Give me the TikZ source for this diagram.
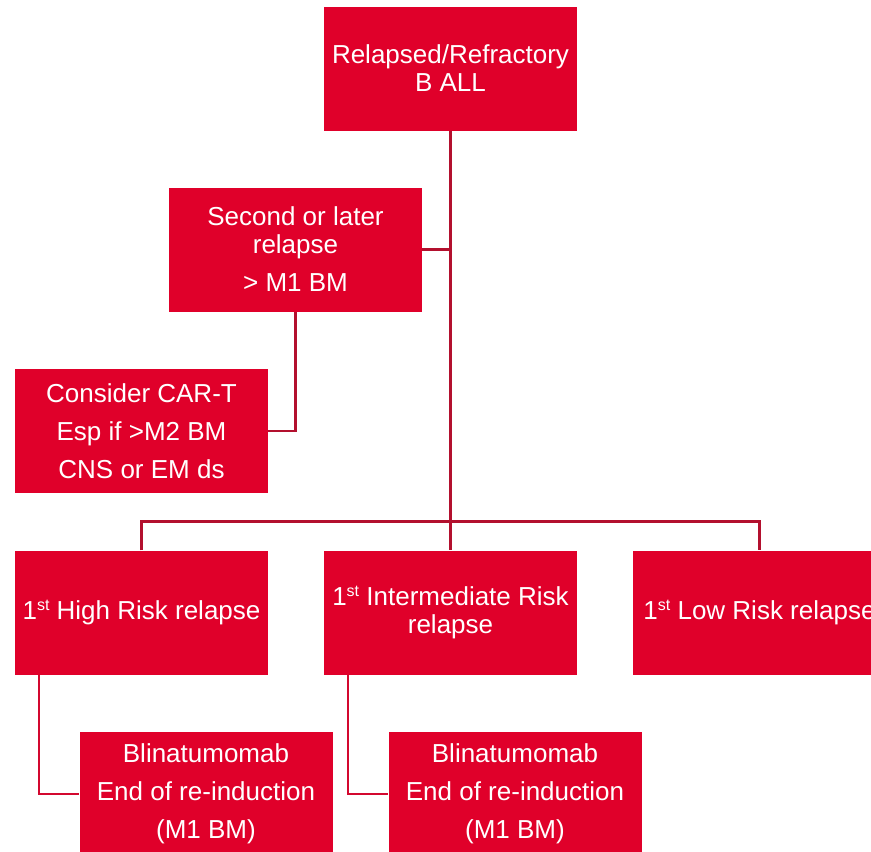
\documentclass[tikz,border=0pt]{standalone}
\usepackage{fontspec}
\setmainfont{Liberation Sans}
\definecolor{boxred}{HTML}{E0002A}
\definecolor{linered}{HTML}{B3102E}
\definecolor{linered2}{HTML}{D3082F}
\newcommand{\supst}{\raisebox{0.62ex}{\fontsize{16}{16}\selectfont st}}
\begin{document}
\begin{tikzpicture}[x=1pt,y=-1pt,
  box/.style={fill=boxred, draw=none, minimum width=253pt, minimum height=124pt,
    inner sep=0pt, text=white, align=center, font=\fontsize{26}{28}\selectfont},
  conn/.style={draw=linered, line width=2.5pt, line join=miter},
  conntwo/.style={draw=linered2, line width=2.5pt, line join=miter}]
\clip (0,0) rectangle (871,852);
\fill[white] (0,0) rectangle (871,852);
\node[box] (top) at (450.5,68.5) {Relapsed/Refractory\\B ALL};
\node[box] (sec) at (295.5,249.5) {Second or later\\relapse\\[10pt]{>} M1 BM};
\node[box] (cart) at (141.5,431) {Consider CAR-T\\[10pt]Esp if {>}M2 BM\\[10pt]CNS or EM ds};
\node[box] (hi) at (141.5,612.5) {1\supst{} High Risk relapse};
\node[box] (mid) at (450.5,612.5) {1\supst{} Intermediate Risk\\relapse};
\node[box] (lo) at (759.5,612.5) {1\supst{} Low Risk relapse};
\node[box] (bl1) at (206,794) {Blinatumomab\\[10pt]End of re-induction\\[10pt](M1 BM)};
\node[box] (bl2) at (515,794) {Blinatumomab\\[10pt]End of re-induction\\[10pt](M1 BM)};
\draw[conn] (top.south) -- (mid.north);
\draw[conn] (sec.east) -- (sec.east -| top.south);
\draw[conn] (hi.north) -- ++(0,-29) -| (lo.north);
\draw[conn] (sec.south) |- (cart.east);
\draw[conntwo] ([xshift=24pt]hi.south west) |- (bl1.west);
\draw[conntwo] ([xshift=24pt]mid.south west) |- (bl2.west);
\end{tikzpicture}
\end{document}
